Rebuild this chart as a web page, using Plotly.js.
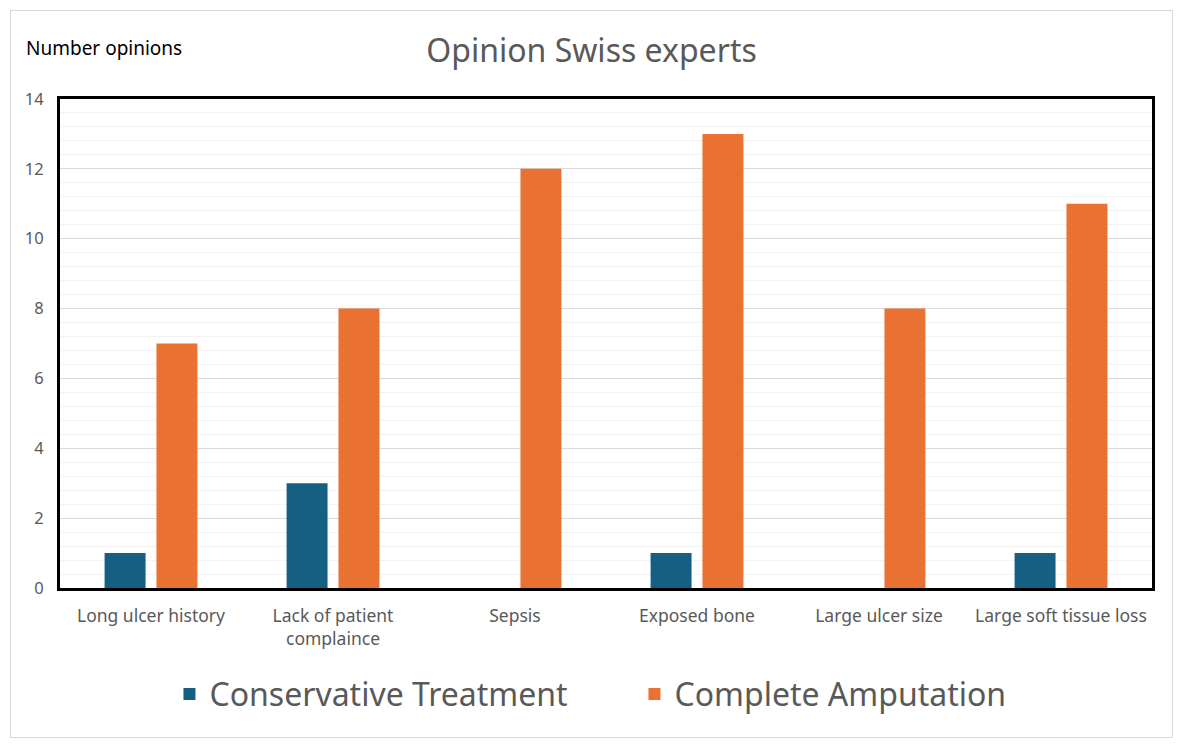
<!DOCTYPE html>
<html>
<head>
<meta charset="utf-8">
<script src="https://cdn.plot.ly/plotly-3.0.1.min.js"></script>
<style>
  html, body { margin: 0; padding: 0; background: #ffffff; }
  #frame {
    position: absolute; left: 10px; top: 10px;
    width: 1161px; height: 726px;
    border: 1px solid #d9d9d9; background: #ffffff;
  }
  #chart { width: 1161px; height: 726px; }
</style>
</head>
<body>
<div id="frame"><div id="chart"></div></div>
<script>
// chart data
const categories = [
  "Long ulcer history",
  "Lack of patient<br>complaince",
  "Sepsis",
  "Exposed bone",
  "Large ulcer size",
  "Large soft tissue loss"
];
const conservative = [1, 3, 0, 1, 0, 1];
const amputation = [7, 8, 12, 13, 8, 11];
const yTicks = [0, 2, 4, 6, 8, 10, 12, 14];

const fontFamily = "'Noto Sans', 'Open Sans', sans-serif";
const grey = "#595959";

const data = [
  {
    x: categories,
    y: conservative,
    type: 'bar',
    name: 'Conservative Treatment',
    marker: { color: '#156082' },
    hoverinfo: 'skip'
  },
  {
    x: categories,
    y: amputation,
    type: 'bar',
    name: 'Complete Amputation',
    marker: { color: '#E97132' },
    hoverinfo: 'skip'
  }
];

const layout = {
  width: 1161,
  height: 726,
  margin: { l: 49, r: 20, t: 88, b: 149, autoexpand: false },
  paper_bgcolor: '#ffffff',
  plot_bgcolor: '#ffffff',
  font: { family: fontFamily, color: grey },
  title: {
    text: 'Opinion Swiss experts',
    font: { size: 32, color: grey, family: fontFamily },
    x: 0.5, xref: 'container', xanchor: 'center',
    y: 0.945, yref: 'container', yanchor: 'middle'
  },
  barmode: 'group',
  bargap: 0.43,
  bargroupgap: 0.21,
  showlegend: true,
  legend: {
    orientation: 'h',
    x: 0.537, xref: 'container', xanchor: 'center',
    y: 0.059, yref: 'container', yanchor: 'middle',
    font: { size: 32, color: grey, family: fontFamily },
    itemsizing: 'constant',
    entrywidth: 420
  },
  xaxis: {
    type: 'category',
    tickfont: { size: 17.5, color: grey },
    showline: true, linecolor: '#000000', linewidth: 3, mirror: true,
    ticks: '', showgrid: false,
    ticklabelstandoff: 10
  },
  yaxis: {
    range: [0, 14],
    tickvals: yTicks,
    tickfont: { size: 16.5, color: grey },
    showline: true, linecolor: '#000000', linewidth: 3, mirror: true,
    gridcolor: '#d9d9d9', gridwidth: 1,
    minor: { dtick: 0.4, showgrid: true, gridcolor: '#f2f2f2', gridwidth: 1 },
    zeroline: false,
    ticks: '', ticklabelstandoff: 10
  },
  annotations: [
    {
      text: 'Number opinions',
      xref: 'paper', yref: 'paper',
      x: -0.033, y: 1.104, xanchor: 'left', yanchor: 'middle',
      showarrow: false,
      font: { size: 19, color: '#000000', family: fontFamily }
    }
  ]
};

Plotly.newPlot('chart', data, layout, { displayModeBar: false, staticPlot: true });
</script>
</body>
</html>
